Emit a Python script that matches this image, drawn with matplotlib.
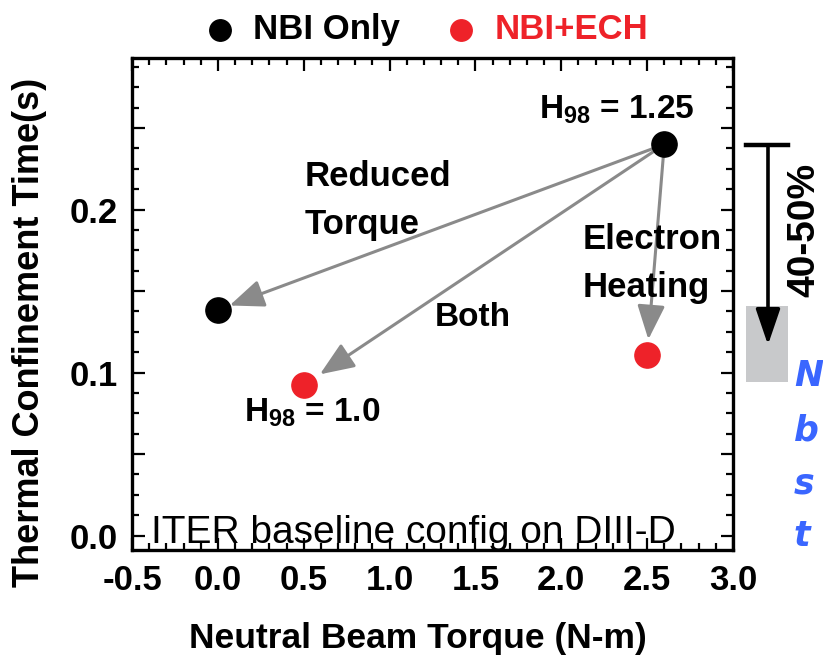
import matplotlib
matplotlib.use('Agg')
import matplotlib.pyplot as plt
from matplotlib.patches import Rectangle
from matplotlib.ticker import MultipleLocator, FixedLocator, FixedFormatter

FONTE = ['Liberation Sans Narrow', 'Liberation Sans', 'DejaVu Sans']
plt.rcParams['font.family'] = FONTE
plt.rcParams['mathtext.fontset'] = 'custom'
plt.rcParams['mathtext.rm'] = 'Liberation Sans:bold'
plt.rcParams['mathtext.bf'] = 'Liberation Sans:bold'

# dados
torque_nbi = [2.6, 0.0]
tau_nbi = [0.240, 0.1385]
torque_ech = [0.5, 2.5]
tau_ech = [0.0923, 0.111]

x_ticks = [-0.5, 0.0, 0.5, 1.0, 1.5, 2.0, 2.5, 3.0]
y_major = [0.0, 0.05, 0.1, 0.15, 0.2, 0.25]
y_labels = ['0.0', '', '0.1', '', '0.2', '']

queda_inicio = 0.2397
queda_fim = 0.117
faixa_alvo = (0.094, 0.141)

CINZA = '#8a8a8a'
VERMELHO = '#ee2229'
AZUL = '#3a66ff'

fig = plt.figure(figsize=(8.23, 6.61), dpi=100)
ax = fig.add_axes([0.1604, 0.168, 0.7302, 0.7443])

ax.set_xlim(-0.5, 3.0)
ax.set_ylim(-0.0088, 0.293)

ax.scatter(torque_nbi, tau_nbi, s=330, color='black', zorder=5, label='NBI Only')
ax.scatter(torque_ech, tau_ech, s=330, color=VERMELHO, zorder=5, label='NBI+ECH')

origem = (torque_nbi[0], tau_nbi[0])
destinos = [((torque_nbi[1], tau_nbi[1]), 9), ((torque_ech[0], tau_ech[0]), 14), ((torque_ech[1], tau_ech[1]), 11)]
for alvo, recuo in destinos:
    ax.annotate('', xy=alvo, xytext=origem,
                arrowprops=dict(arrowstyle='-|>,head_length=2.1,head_width=0.85', color=CINZA,
                                lw=2.2, shrinkA=4, shrinkB=recuo), zorder=3)

kw = dict(fontsize=24, fontweight='bold', va='center')
ax.text(2.325, 0.261, r'H$_{\mathbf{98}}$ = 1.25', ha='center', **kw)
ax.text(0.55, 0.0752, r'H$_{\mathbf{98}}$ = 1.0', ha='center', **kw)
ax.text(0.508, 0.2055, 'Reduced\nTorque', ha='left', linespacing=1.6, fontsize=25,
        fontweight='bold', va='center')
ax.text(1.486, 0.134, 'Both', ha='center', **kw)
ax.text(2.127, 0.167, 'Electron\nHeating', ha='left', linespacing=1.6, fontsize=25,
        fontweight='bold', va='center')
ax.text(-0.39, 0.0015, 'ITER baseline config on DIII-D', fontsize=28, ha='left', va='center')

# seta vertical e faixa fora do eixo
ax.add_patch(Rectangle((3.076, faixa_alvo[0]), 0.244, faixa_alvo[1] - faixa_alvo[0],
                       facecolor='#c8c9cb', edgecolor='none', clip_on=False, zorder=1))
ax.plot([3.076, 3.32], [queda_inicio, queda_inicio], color='black', lw=3.2, clip_on=False)
ax.annotate('', xy=(3.204, queda_fim), xytext=(3.204, queda_inicio),
            arrowprops=dict(arrowstyle='-|>,head_length=2.2,head_width=0.75', color='black',
                            lw=2.6, shrinkA=0, shrinkB=0), annotation_clip=False, zorder=4)
ax.text(3.418, 0.1875, '40-50%', rotation=90, fontsize=28, fontweight='bold',
        ha='center', va='center', clip_on=False)
for yy, txt in zip([0.098, 0.0645, 0.032, 0.0], ['N', 'b', 's', 't']):
    ax.text(3.355, yy, txt, fontsize=25, fontweight='bold', style='italic', color=AZUL,
            family=['DejaVu Sans'], ha='left', va='center', clip_on=False)

ax.set_xticks(x_ticks)
ax.set_xticklabels(['%.1f' % v for v in x_ticks])
ax.xaxis.set_minor_locator(MultipleLocator(0.1))
ax.yaxis.set_major_locator(FixedLocator(y_major))
ax.yaxis.set_major_formatter(FixedFormatter(y_labels))
ax.yaxis.set_minor_locator(MultipleLocator(0.0125))
ax.tick_params(which='both', direction='in', top=True, right=True, width=1.6)
ax.tick_params(which='major', length=9, labelsize=25, pad=10)
ax.tick_params(which='minor', length=5)
for lab in ax.get_xticklabels() + ax.get_yticklabels():
    lab.set_fontweight('bold')
for sp in ax.spines.values():
    sp.set_linewidth(2.4)

ax.set_xlabel('Neutral Beam Torque (N-m)', fontsize=25.5, fontweight='bold', va='center')
ax.xaxis.set_label_coords(0.476, -0.179)
ax.set_ylabel('Thermal Confinement Time(s)', fontsize=26, fontweight='bold', va='center')
ax.yaxis.set_label_coords(-0.170, 0.443)

leg = fig.legend(loc='center', bbox_to_anchor=(0.517, 0.955), ncol=2, frameon=False,
                 fontsize=25, handlelength=1.0, handletextpad=0.45, columnspacing=1.25,
                 markerscale=0.85)
for t, c in zip(leg.get_texts(), ['black', VERMELHO]):
    t.set_color(c)
    t.set_fontweight('bold')

fig.savefig('out.png', dpi=100)
